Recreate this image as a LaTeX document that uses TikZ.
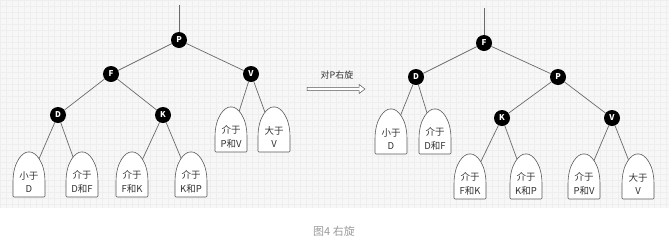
\documentclass[tikz,border=0pt]{standalone}
\usepackage{fontspec}
\setmainfont{Noto Sans CJK SC}
\usepackage{tikz}
\usetikzlibrary{backgrounds,shapes.arrows}
\definecolor{paper}{HTML}{F7F7F7}
\definecolor{gridline}{HTML}{EEEEEE}
\definecolor{edgegray}{HTML}{6A6A6A}
\definecolor{captiongray}{HTML}{9A9A9A}
\tikzstyle{vertex} = [circle, fill=black, text=white, minimum size=16pt, inner sep=0pt, font=\fontsize{8}{8}\selectfont\bfseries]
\tikzstyle{link} = [draw=edgegray, line width=0.7pt]
\tikzstyle{leafline} = [draw=black!65, line width=0.6pt, fill=white, rounded corners=1pt]
\tikzstyle{leaftext} = [align=center, inner sep=0pt, text=black!80, font=\fontsize{9.5}{13.5}\selectfont]
\tikzstyle{rotarrow} = [single arrow, draw=black!65, fill=white, line width=0.5pt, inner sep=1.3pt, minimum height=58pt, single arrow head extend=3pt, single arrow tip angle=75]

% subtree triangle: name, centre x, bottom y, text
\newcommand{\leafbox}[4]{%
  \draw[leafline] ({#2-16},{#3}) -- ({#2-16},{#3-14})
    .. controls ({#2-16},{#3-36}) and ({#2-6},{#3-45}) .. ({#2},{#3-45})
    .. controls ({#2+6},{#3-45}) and ({#2+16},{#3-36}) .. ({#2+16},{#3-14})
    -- ({#2+16},{#3}) -- cycle;
  \node[leaftext] (#1) at ({#2},{#3-15}) {#4};
}

\begin{document}
\begin{tikzpicture}[x=1pt, y=-1pt]
\useasboundingbox (0,0) rectangle (669,250);

% squared paper behind both trees
\begin{scope}[on background layer]
\fill[paper] (0,0) rectangle (669,208);
\draw[gridline, line width=0.25pt, step=6pt] (0,0) grid (669,208);
\end{scope}

%% before the rotation
\leafbox{lDl}{29}{197}{小于\\D}
\leafbox{lDr}{82}{197}{介于\\D和F}
\leafbox{lKl}{132}{197}{介于\\F和K}
\leafbox{lKr}{191}{197}{介于\\K和P}
\leafbox{lVl}{231}{152}{介于\\P和V}
\leafbox{lVr}{274}{152}{大于\\V}

\node (P) [vertex] at (179,40) {P};
\node (F) [vertex] at (111,74) {F};
\node (V) [vertex] at (251,74) {V};
\node (D) [vertex] at (58,115) {D};
\node (K) [vertex] at (163,115) {K};
\coordinate (topL) at (179,5);

\begin{scope}[on background layer]
\draw [link] (topL) -- (P);
\draw [link] (P) -- (F);
\draw [link] (P) -- (V);
\draw [link] (F) -- (D);
\draw [link] (F) -- (K);
\draw [link] (D) -- (lDl);
\draw [link] (D) -- (lDr);
\draw [link] (K) -- (lKl);
\draw [link] (K) -- (lKr);
\draw [link] (V) -- (lVl);
\draw [link] (V) -- (lVr);
\end{scope}

%% the rotation arrow
\node (rot) [rotarrow] at (335,89) {};
\node (rotlabel) [font=\fontsize{9}{9}\selectfont, text=black!80] at (337,75) {对P右旋};

%% after the rotation
\leafbox{rDl}{391}{154}{小于\\D}
\leafbox{rDr}{435}{154}{介于\\D和F}
\leafbox{rKl}{470}{199}{介于\\F和K}
\leafbox{rKr}{526}{199}{介于\\K和P}
\leafbox{rVl}{584}{199}{介于\\P和V}
\leafbox{rVr}{638}{199}{大于\\V}

\node (F2) [vertex] at (484,43) {F};
\node (D2) [vertex] at (416,77) {D};
\node (P2) [vertex] at (558,77) {P};
\node (K2) [vertex] at (502,118) {K};
\node (V2) [vertex] at (612,118) {V};
\coordinate (topR) at (484,8);

\begin{scope}[on background layer]
\draw [link] (topR) -- (F2);
\draw [link] (F2) -- (D2);
\draw [link] (F2) -- (P2);
\draw [link] (D2) -- (rDl);
\draw [link] (D2) -- (rDr);
\draw [link] (P2) -- (K2);
\draw [link] (P2) -- (V2);
\draw [link] (K2) -- (rKl);
\draw [link] (K2) -- (rKr);
\draw [link] (V2) -- (rVl);
\draw [link] (V2) -- (rVr);
\end{scope}

\node (caption) [font=\fontsize{11}{11}\selectfont, text=captiongray] at (334,231) {图4 右旋};

\end{tikzpicture}
\end{document}
